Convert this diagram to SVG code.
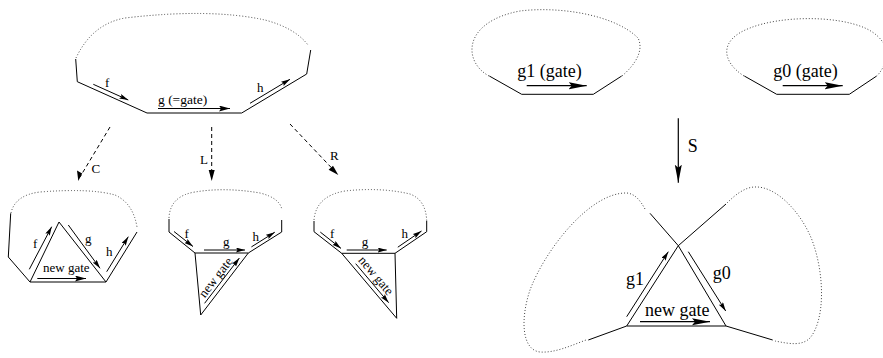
<svg xmlns="http://www.w3.org/2000/svg" width="883" height="358" viewBox="0 0 883 358">
<style>
  .s{fill:none;stroke:#000;stroke-width:1}
  .d{fill:none;stroke:#444;stroke-width:1;stroke-dasharray:1 2}
  .ds{fill:none;stroke:#000;stroke-width:1;stroke-dasharray:4 3}
  .a{fill:none;stroke:#000;stroke-width:1;marker-end:url(#ah)}
  .am{fill:none;stroke:#000;stroke-width:1;marker-end:url(#am)}
  .ab{fill:none;stroke:#000;stroke-width:1.2;marker-end:url(#ab)}
  text{font-family:"Liberation Serif","Times New Roman",serif;fill:#000}
  .t{font-size:13px}
  .tm{font-size:13.5px}
  .tb{font-size:18px}
</style>
<defs>
  <marker id="ah" markerUnits="userSpaceOnUse" orient="auto" refX="9" refY="2.5" markerWidth="10" markerHeight="6"><path d="M0,0 L9,2.5 L0,5 L1.5,2.5 z" fill="#000"/></marker>
  <marker id="am" markerUnits="userSpaceOnUse" orient="auto" refX="11" refY="3" markerWidth="12" markerHeight="7"><path d="M0,0 L11,3 L0,6 L2,3 z" fill="#000"/></marker>
  <marker id="ab" markerUnits="userSpaceOnUse" orient="auto" refX="18" refY="3.5" markerWidth="19" markerHeight="8"><path d="M0,0 L18,3.5 L0,7 L3,3.5 z" fill="#000"/></marker>
</defs>

<g id="top-left">
  <path class="d" d="M76,58 Q92,24 125,18 Q210,8 265,20 Q295,28 308,45"/>
  <polyline class="s" points="75.7,59 77.3,81.7 147,113 241.7,113 306.7,74 310.7,50"/>
  <line class="a" x1="93.3" y1="84.3" x2="128.3" y2="100"/>
  <text class="t" x="105" y="87">f</text>
  <line class="am" x1="158" y1="108.5" x2="230" y2="108.5"/>
  <text class="tm" x="158" y="104">g (=gate)</text>
  <line class="a" x1="250" y1="103.3" x2="290" y2="79.3"/>
  <text class="t" x="257" y="92">h</text>
</g>

<g id="fig-C">
  <path class="d" d="M11,213 Q15,195 40,192 Q90,188 115,195 Q133,203 137,227"/>
  <polyline class="s" points="10.7,213.3 8.3,257 30,282 106,282 137,232"/>
  <polyline class="s" points="30,282 59,222 106,282"/>
  <line class="a" x1="29.3" y1="269.3" x2="51.7" y2="226.7"/>
  <text class="t" x="33" y="248">f</text>
  <line class="a" x1="68.3" y1="225" x2="100" y2="268.3"/>
  <text class="t" x="85" y="243">g</text>
  <line class="a" x1="106.7" y1="271.7" x2="128.3" y2="236.7"/>
  <text class="t" x="106" y="256">h</text>
  <text class="t" x="43" y="272">new gate</text>
  <line class="am" x1="37.3" y1="278.5" x2="86" y2="278.5"/>
</g>

<g id="fig-L">
  <path class="d" d="M169,218 Q170,196 195,192 Q225,187 260,193 Q280,198 282,210"/>
  <polyline class="s" points="169,219 169,232 195,253 248.3,253 281.7,232 281.7,220"/>
  <polyline class="s" points="195,253 200.7,315 248.3,253"/>
  <line class="a" x1="174" y1="231.5" x2="193" y2="246.5"/>
  <text class="t" x="184.5" y="238">f</text>
  <line class="a" x1="204" y1="250" x2="245" y2="250"/>
  <text class="t" x="223" y="246">g</text>
  <line class="a" x1="251.4" y1="246.9" x2="274.8" y2="232.2"/>
  <text class="t" x="252.5" y="241">h</text>
  <line class="a" x1="204.6" y1="303.3" x2="239.4" y2="258"/>
  <text class="t" text-anchor="middle" x="215.8" y="281.5" transform="rotate(-52.5 215.8 277.5)">new gate</text>
</g>

<g id="fig-R">
  <path class="d" d="M314,220 Q316,196 345,191 Q380,187 410,194 Q426,200 426.7,221"/>
  <polyline class="s" points="314,221 314,231.7 341.7,253.3 395,253.3 426.7,231.7 426.7,221"/>
  <polyline class="s" points="341.7,253.3 396.7,318.3 395,253.3"/>
  <line class="a" x1="320.3" y1="232.1" x2="341" y2="248.4"/>
  <text class="t" x="330" y="238">f</text>
  <line class="a" x1="346.7" y1="250" x2="386.7" y2="250"/>
  <text class="t" x="361.7" y="246">g</text>
  <line class="a" x1="397.8" y1="247.2" x2="421.5" y2="231"/>
  <text class="t" x="401.5" y="238">h</text>
  <line class="a" x1="355.7" y1="263.7" x2="388.7" y2="302.7"/>
  <text class="t" text-anchor="middle" x="375.8" y="279.8" transform="rotate(49.8 375.8 275.8)">new gate</text>
</g>

<g id="fig-g1">
  <path class="d" d="M489,76 C463,62 462,22 520,11 C560,6 615,15 638,38 C644,50 636,64 622,76"/>
  <polyline class="s" points="489.3,76 521.7,94.3 593.3,94.3 621.7,76"/>
  <text class="tb" x="517.3" y="77">g1 (gate)</text>
  <line class="ab" x1="526.7" y1="85.7" x2="586.7" y2="85.7"/>
</g>

<g id="fig-g0">
  <path class="d" d="M744,76 C722,62 718,40 750,28 C780,16 835,15 865,28 C885,37 895,55 877,76"/>
  <polyline class="s" points="744.3,76 776.7,94.3 849.3,94.3 876.7,76"/>
  <text class="tb" x="773.3" y="77">g0 (gate)</text>
  <line class="ab" x1="782.7" y1="85.7" x2="842.7" y2="85.7"/>
</g>

<g id="fig-merged">
  <path class="d" d="M645,209 C640,200 635,194 627,193 C590,192 545,250 530,290 C520,320 522,350 540,352 C555,353 570,346 586,340"/>
  <path class="d" d="M727,203 C735,195 745,187 755,187 C775,186 800,210 812,240 C825,275 825,320 810,338 C802,346 790,344 775,341"/>
  <polyline class="s" points="650,213.3 678.3,245.7 726,326"/>
  <polyline class="s" points="726,204 678.3,245.7 626.7,326"/>
  <line class="s" x1="626.7" y1="326" x2="726" y2="326"/>
  <line class="s" x1="626.7" y1="326" x2="588.3" y2="340"/>
  <line class="s" x1="726" y1="326" x2="772.7" y2="340"/>
  <line class="a" x1="626.7" y1="316.7" x2="668.3" y2="251.7"/>
  <text class="tb" x="626" y="285">g1</text>
  <line class="a" x1="688.3" y1="251.7" x2="725.7" y2="311"/>
  <text class="tb" x="712.7" y="279">g0</text>
  <text class="tb" x="645" y="316">new gate</text>
  <line class="ab" x1="640" y1="321.7" x2="710" y2="321.7"/>
</g>

<g id="connectors">
  <line class="ds" x1="110" y1="127" x2="80" y2="177"/>
  <path d="M78.3,181 L77,170.5 L82.2,173.6 z" fill="#000"/>
  <text class="t" x="91.5" y="173">C</text>
  <line class="ds" x1="211.7" y1="127" x2="211.7" y2="176"/>
  <path d="M211.7,181 L208.7,170 L214.7,170 z" fill="#000"/>
  <text class="t" x="200" y="163.5">L</text>
  <line class="ds" x1="290" y1="124" x2="335" y2="171.5"/>
  <path d="M338.3,175 L328.6,169.8 L333,165.7 z" fill="#000"/>
  <text class="t" x="330" y="160">R</text>
  <line class="ab" x1="678.3" y1="118.3" x2="678.3" y2="182.7"/>
  <text class="tb" x="687.7" y="151.5">S</text>
</g>
</svg>
